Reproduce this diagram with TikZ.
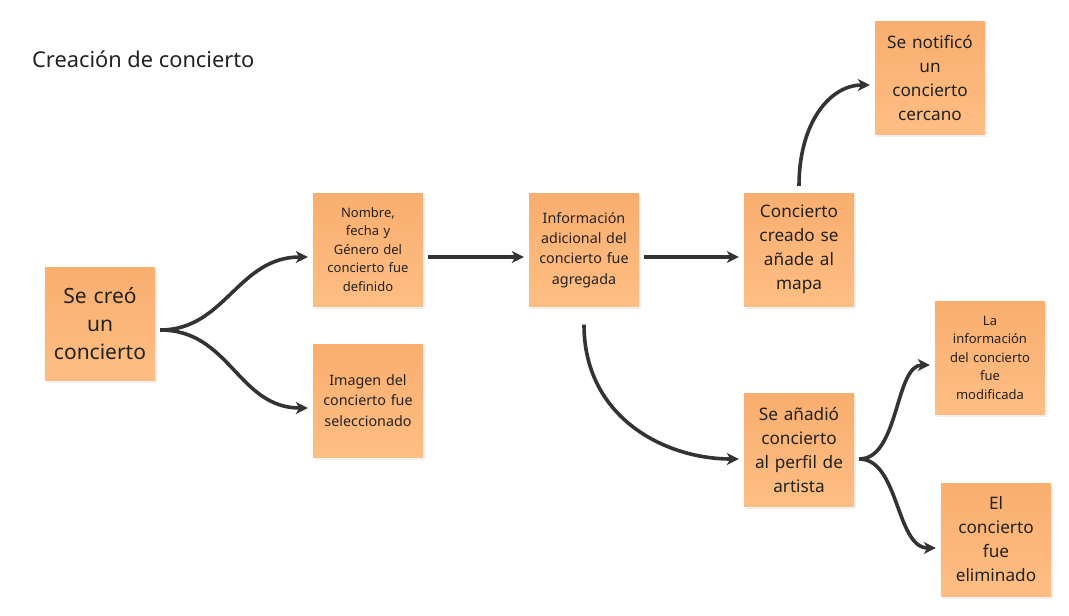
\documentclass[tikz,border=0pt]{standalone}
\usepackage{fontspec}
\setmainfont{Noto Sans}
\usetikzlibrary{arrows.meta,shadows}
\definecolor{notetop}{HTML}{F9AE6F}
\definecolor{notebot}{HTML}{FEBE83}
\definecolor{arrowc}{HTML}{333333}
\definecolor{txt}{HTML}{222222}
\tikzset{
  note/.style={rectangle, minimum width=110pt, minimum height=113pt, inner xsep=5pt, inner ysep=4pt,
    top color=notetop, bottom color=notebot, draw=none, text=txt,
    align=center, text width=100pt,
    drop shadow={opacity=0.12, shadow xshift=1.5pt, shadow yshift=-2.5pt}},
  big/.style={font=\fontsize{21}{28}\selectfont},
  mid/.style={font=\fontsize{17.2}{24}\selectfont},
  sml/.style={font=\fontsize{14.3}{20.3}\selectfont},
  tiny/.style={font=\fontsize{13}{18.5}\selectfont},
  conn/.style={draw=arrowc, line width=3.6pt, -{Stealth[length=12pt,width=12pt,inset=3.5pt]},
    shorten <=5pt, shorten >=5pt},
}
\begin{document}
\begin{tikzpicture}[x=1pt,y=-1pt]
\useasboundingbox (0,0) rectangle (1069,616);
\node[anchor=base west, font=\fontsize{21.8}{26}\selectfont, text=txt, inner sep=0pt] (title) at (32,67) {Creación de concierto};
\node[note,big] (A) at (100,323.5) {Se creó\\un\\concierto};
\node[note,tiny] (B) at (368,249.5) {Nombre,\\fecha y\\Género del\\concierto fue\\definido};
\node[note,sml] (C) at (368,400.5) {Imagen del\\concierto fue\\seleccionado};
\node[note,sml] (D) at (584,250) {Información\\adicional del\\concierto fue\\agregada};
\node[note,mid] (E) at (799,249.5) {Concierto\\creado se\\añade al\\mapa};
\node[note,mid] (F) at (930,77.5) {Se notificó\\un\\concierto\\cercano};
\node[note,mid] (G) at (799,450) {Se añadió\\concierto\\al perfil de\\artista};
\node[note,tiny] (H) at (990,357.5) {La\\información\\del concierto\\fue\\modificada};
\node[note,mid] (I) at (996,539.5) {El\\concierto\\fue\\eliminado};

\draw[conn] ([yshift=-6.5pt]A.east) .. controls +(70,0) and +(-75,0) .. ([yshift=-7.5pt]B.west);
\draw[conn] ([yshift=-6.5pt]A.east) .. controls +(75,0) and +(-75,0) .. ([yshift=-7.5pt]C.west);
\draw[conn] ([yshift=-7.5pt]B.east) -- ([yshift=-7pt]D.west);
\draw[conn] ([yshift=-7pt]D.east) -- ([yshift=-7.5pt]E.west);
\draw[conn, shorten <=7pt] (E.north) .. controls +(0,-70) and +(-45,0) .. ([yshift=-7.5pt]F.west);
\draw[conn, shorten <=18pt] (D.south) .. controls +(0,110) and +(-80,0) .. ([yshift=-9pt]G.west);
\draw[conn] ([yshift=-9pt]G.east) .. controls +(45,0) and +(-40,0) .. ([yshift=-7.5pt]H.west);
\draw[conn] ([yshift=-9pt]G.east) .. controls +(45,0) and +(-45,0) .. ([yshift=-8.5pt]I.west);
\end{tikzpicture}
\end{document}
